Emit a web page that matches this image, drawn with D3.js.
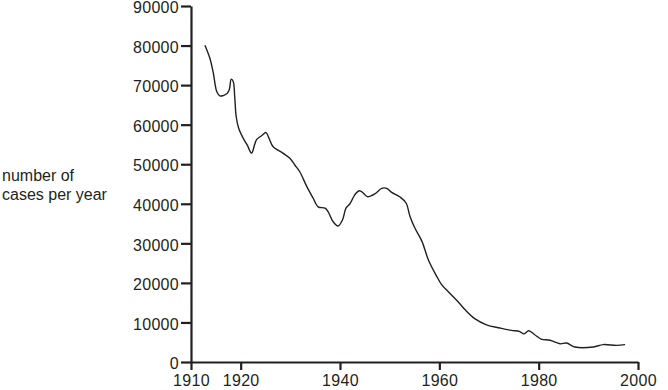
<!DOCTYPE html>
<html>
<head>
<meta charset="utf-8">
<script src="https://cdn.jsdelivr.net/npm/d3@7"></script>
<style>
  body { margin: 0; background: #fff; }
  svg { display: block; font-family: "Liberation Sans", Arial, sans-serif; }
</style>
</head>
<body>
<svg id="chart" width="668" height="390"></svg>
<script>
// data
const years = [1912.8, 1913.8, 1914.5, 1915.2, 1915.8, 1917.2, 1917.7, 1918.1, 1918.5, 1918.8,
  1919.1, 1919.6, 1920.5, 1921.3, 1922.2, 1922.8, 1923.2, 1924.2, 1925.1, 1925.7,
  1926.5, 1928.5, 1929.9, 1930.9, 1931.9, 1933.3, 1934.6, 1935.6, 1937, 1937.6,
  1938.6, 1939.6, 1940.5, 1941.2, 1942, 1943, 1943.9, 1944.7, 1945.5, 1947,
  1948.4, 1949.4, 1950.4, 1952.1, 1953.3, 1954.1, 1955.1, 1956.5, 1957.8, 1959.5,
  1960.5, 1962.1, 1964, 1965.2, 1967.2, 1969.5, 1972.2, 1974.5, 1976.2, 1977,
  1978, 1979.2, 1980.5, 1982.3, 1984.3, 1985.6, 1987.3, 1991, 1993, 1995.7, 1997.4];
const cases = [80100, 76800, 73000, 68300, 67300, 67800, 68800, 71500, 70900, 67100,
  62000, 59100, 56600, 54900, 52800, 54900, 56200, 57200, 58000, 56600,
  54500, 52800, 51500, 49800, 48100, 44400, 41400, 39200, 38900, 38000,
  35500, 34400, 35900, 38900, 40000, 42300, 43300, 42700, 41800, 42500,
  43900, 43900, 42900, 41700, 40200, 36800, 33800, 30500, 25800, 21600,
  19500, 17400, 14900, 13200, 10900, 9400, 8600, 8000, 7700, 7100,
  7900, 6900, 5800, 5500, 4600, 4800, 3800, 3800, 4400, 4200, 4400];
const xTicks = [1910, 1920, 1940, 1960, 1980, 2000];
const yTicks = [0, 10000, 20000, 30000, 40000, 50000, 60000, 70000, 80000, 90000];
const yLabelLines = ["number of", "cases per year"];

const svg = d3.select("#chart");
const ink = "#231f20";

const x = d3.scaleLinear().domain([1910, 2000]).range([191, 638]);
const y = d3.scaleLinear().domain([0, 90000]).range([362, 6]);

// axes
const gx = svg.append("g")
  .attr("transform", "translate(0," + y(0) + ")")
  .call(d3.axisBottom(x).tickValues(xTicks).tickFormat(d3.format("d")).tickSizeInner(8).tickSizeOuter(0));

const gy = svg.append("g")
  .attr("transform", "translate(" + x(1910) + ",0)")
  .call(d3.axisLeft(y).tickValues(yTicks).tickFormat(d3.format("d")).tickSizeInner(10).tickSizeOuter(0));

[gx, gy].forEach(function (g) {
  g.select(".domain").attr("stroke", ink).attr("stroke-width", 2.2);
  g.selectAll(".tick line").attr("stroke", ink).attr("stroke-width", 2.2);
  g.selectAll(".tick text")
    .attr("fill", ink)
    .style("font-size", "16px")
    .style("letter-spacing", "0.3px")
    .style("font-family", "'Liberation Sans', Arial, sans-serif");
});
gx.selectAll(".tick text").attr("dy", null).attr("y", 24);
gy.selectAll(".tick text").attr("x", -12).attr("dy", "0.42em");

// y-axis title
svg.append("text")
  .attr("x", 2)
  .attr("y", 181)
  .attr("fill", ink)
  .style("font-size", "16px")
  .selectAll("tspan")
  .data(yLabelLines)
  .join("tspan")
  .attr("x", 2)
  .attr("dy", function (d, i) { return i === 0 ? 0 : 19; })
  .text(function (d) { return d; });

// the line
const line = d3.line()
  .x(function (d, i) { return x(years[i]); })
  .y(function (d) { return y(d); })
  .curve(d3.curveCatmullRom.alpha(0.5));

svg.append("path")
  .datum(cases)
  .attr("fill", "none")
  .attr("stroke", ink)
  .attr("stroke-width", 1.4)
  .attr("d", line);
</script>
</body>
</html>
